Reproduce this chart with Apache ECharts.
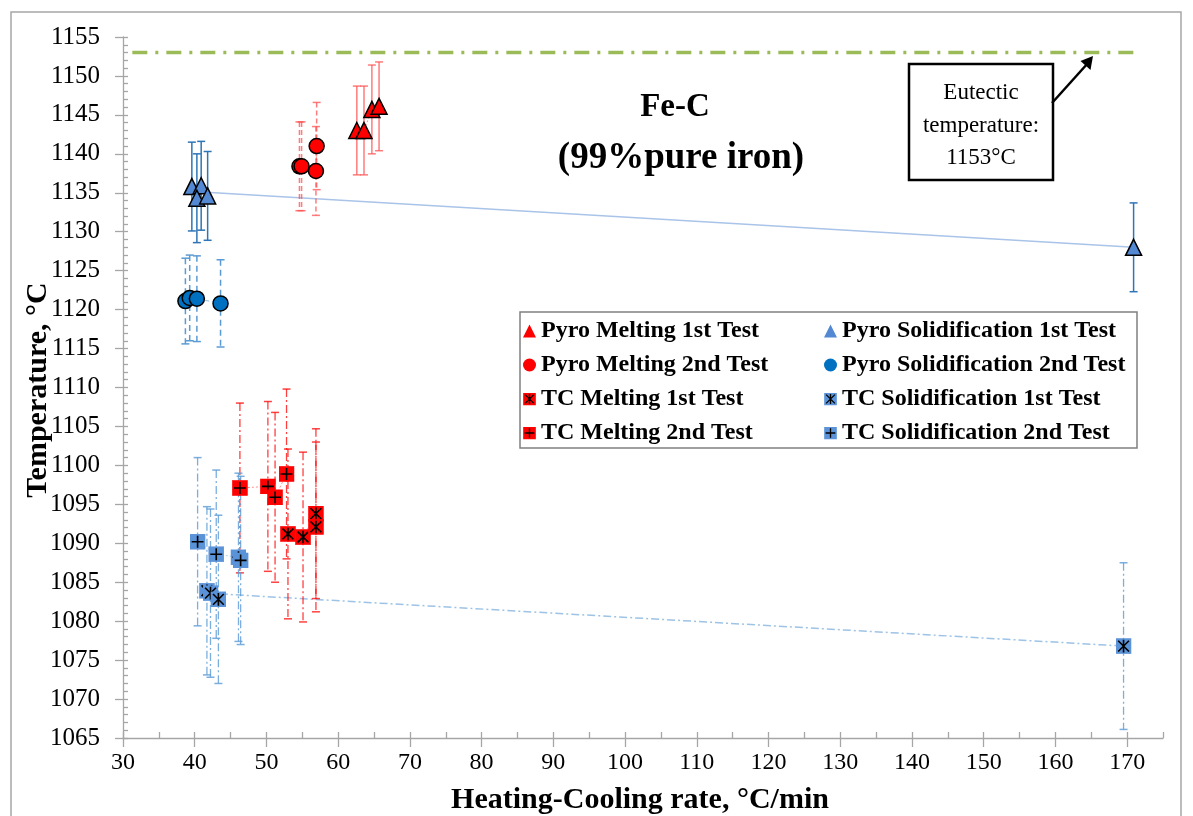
<!DOCTYPE html>
<html>
<head>
<meta charset="utf-8">
<script src="https://cdn.jsdelivr.net/npm/echarts@6/dist/echarts.min.js"></script>
<style>html,body{margin:0;padding:0;background:#fff;}#c{width:1193px;height:816px;}</style>
</head>
<body>
<div id="c"></div>
<script>
// ---------------- DATA ----------------
const pyroMelt1X = [62.6, 63.6, 64.7, 65.7];
const pyroMelt1Y = [1143.0, 1143.0, 1145.7, 1146.1];
const pyroMelt1Err = [5.7, 5.7, 5.7, 5.7];

const pyroMelt2X = [54.6, 54.9, 56.9, 57.0];
const pyroMelt2Y = [1138.4, 1138.4, 1137.8, 1141.0];
const pyroMelt2Err = [5.7, 5.7, 5.7, 5.6];

const pyroSol1X = [39.6, 40.9, 40.3, 41.8, 170.9];
const pyroSol1Y = [1135.8, 1135.9, 1134.3, 1134.6, 1128.0];
const pyroSol1Err = [5.7, 5.7, 5.7, 5.7, 5.7];

const pyroSol2X = [38.7, 39.3, 40.3, 43.6];
const pyroSol2Y = [1121.1, 1121.5, 1121.4, 1120.8];
const pyroSol2Err = [5.5, 5.5, 5.5, 5.6];

const tcMelt1X = [53.0, 55.1, 56.9, 56.9];
const tcMelt1Y = [1091.2, 1090.8, 1093.8, 1092.1];
const tcMelt1Err = [10.9, 10.9, 10.9, 10.9];

const tcMelt2X = [46.3, 50.2, 51.2, 52.8];
const tcMelt2Y = [1097.1, 1097.3, 1095.9, 1098.9];
const tcMelt2Err = [10.9, 10.9, 10.9, 10.9];

const tcSol1X = [41.7, 42.2, 43.3, 169.5];
const tcSol1Y = [1083.9, 1083.6, 1082.8, 1076.8];
const tcSol1Err = [10.8, 10.8, 10.8, 10.7];

const tcSol2X = [40.4, 43.0, 46.1, 46.4];
const tcSol2Y = [1090.2, 1088.6, 1088.2, 1087.8];
const tcSol2Err = [10.8, 10.8, 10.8, 10.8];

const ps1TrendX = [41.0, 170.9];
const ps1TrendY = [1135.1, 1128.0];
const ts1TrendX = [43.5, 169.5];
const ts1TrendY = [1083.5, 1076.8];

const eutecticX = [31.3, 171.0];
const eutecticY = [1153, 1153];

const xMajorTicks = [30, 40, 50, 60, 70, 80, 90, 100, 110, 120, 130, 140, 150, 160, 170];
const xMinorTicks = [30, 35, 40, 45, 50, 55, 60, 65, 70, 75, 80, 85, 90, 95, 100, 105, 110, 115, 120, 125, 130, 135, 140, 145, 150, 155, 160, 165, 170, 175];
const xTickLabels = [30, 40, 50, 60, 70, 80, 90, 100, 110, 120, 130, 140, 150, 160, 170];

const names = {
  pm1: 'Pyro Melting 1st Test', pm2: 'Pyro Melting 2nd Test',
  tm1: 'TC Melting 1st Test', tm2: 'TC Melting 2nd Test',
  ps1: 'Pyro Solidification 1st Test', ps2: 'Pyro Solidification 2nd Test',
  ts1: 'TC Solidification 1st Test', ts2: 'TC Solidification 2nd Test'
};

// ---------------- HELPERS ----------------
const FONT = "'Liberation Serif','Times New Roman',serif";
const pts = (xs, ys) => xs.map((x, i) => [x, ys[i]]);
const errPts = (xs, ys, es) => xs.map((x, i) => [x, ys[i], es[i]]);

function svgSymbol(fill, kind) {
  const path = kind === 'plus'
    ? "M7 1.8V12.2M1.8 7H12.2"
    : "M2.3 2.3L11.7 11.7M11.7 2.3L2.3 11.7M7 1.5V12.5";
  const svg = "<svg xmlns='http://www.w3.org/2000/svg' width='28' height='28' viewBox='0 0 14 14'>" +
    "<rect x='0.3' y='0.3' width='13.4' height='13.4' fill='" + fill + "' stroke='" + fill + "' stroke-opacity='0.6' stroke-width='0.6'/>" +
    "<path d='" + path + "' stroke='#000' stroke-width='1.4' fill='none'/></svg>";
  return 'image://data:image/svg+xml;charset=utf-8,' + encodeURIComponent(svg);
}

function errSeries(data, color, dash, width) {
  return {
    type: 'custom', silent: true, z: 2,
    data: data,
    encode: { x: 0, y: 1 },
    renderItem: function (params, api) {
      const x = api.value(0), y = api.value(1), e = api.value(2);
      const t = api.coord([x, y + e]), b = api.coord([x, y - e]);
      const cw = 4;
      return {
        type: 'group', children: [
          { type: 'line', shape: { x1: t[0], y1: t[1], x2: b[0], y2: b[1] }, style: { stroke: color, lineWidth: width, lineDash: dash } },
          { type: 'line', shape: { x1: t[0] - cw, y1: t[1], x2: t[0] + cw, y2: t[1] }, style: { stroke: color, lineWidth: 1.5 } },
          { type: 'line', shape: { x1: b[0] - cw, y1: b[1], x2: b[0] + cw, y2: b[1] }, style: { stroke: color, lineWidth: 1.5 } }
        ]
      };
    }
  };
}

function faintLine(data, color, dash) {
  return {
    type: 'line', data: data, symbol: 'none', silent: true, z: 2,
    lineStyle: { color: color, width: 1, type: dash, opacity: 0.45 }
  };
}

function scatter(name, data, symbol, color, size, border) {
  return {
    type: 'scatter', name: name, data: data, symbol: symbol, symbolSize: size, z: 5,
    itemStyle: { color: color, borderColor: border ? '#000' : color, borderWidth: border ? 1.5 : 0, opacity: 1 }
  };
}

const RED = '#ff0000';
const BLUE_TRI = '#5389d3';
const BLUE_CIR = '#0070c0';
const BLUE_SQ = '#5b93d8';

const series = [
  { type: 'line', data: pts(eutecticX, eutecticY), symbol: 'none', silent: true, z: 1,
    lineStyle: { color: '#9bbb59', width: 3.5, type: [15, 8, 3, 8] } },
  { type: 'line', data: pts(ps1TrendX, ps1TrendY), symbol: 'none', silent: true, z: 1,
    lineStyle: { color: '#a9c4e8', width: 1.5 } },
  { type: 'line', data: pts(ts1TrendX, ts1TrendY), symbol: 'none', silent: true, z: 1,
    lineStyle: { color: '#9dc3e6', width: 1.5, type: [8, 3, 2, 3] } },
  faintLine(pts(pyroMelt1X, pyroMelt1Y), RED, [2, 2]),
  faintLine(pts(pyroMelt2X, pyroMelt2Y), RED, [4, 3]),
  faintLine(pts(pyroSol2X, pyroSol2Y), BLUE_CIR, [4, 3]),
  faintLine(pts(tcMelt2X, tcMelt2Y), RED, [2, 2]),
  faintLine(pts(tcMelt1X, tcMelt1Y), RED, [2, 2]),
  faintLine(pts(tcSol2X, tcSol2Y), BLUE_SQ, [2, 2]),
  errSeries(errPts(pyroMelt1X, pyroMelt1Y, pyroMelt1Err), 'rgba(255,80,80,0.75)', null, 1.5),
  errSeries(errPts(pyroMelt2X, pyroMelt2Y, pyroMelt2Err), 'rgba(255,80,80,0.75)', [5, 3], 1.5),
  errSeries(errPts(pyroSol1X, pyroSol1Y, pyroSol1Err), '#2e75b6', null, 1.5),
  errSeries(errPts(pyroSol2X, pyroSol2Y, pyroSol2Err), '#5b9bd5', [6, 4], 1.5),
  errSeries(errPts(tcMelt1X, tcMelt1Y, tcMelt1Err), 'rgba(255,0,0,0.75)', [8, 3, 2, 3], 1.3),
  errSeries(errPts(tcMelt2X, tcMelt2Y, tcMelt2Err), 'rgba(255,0,0,0.75)', [8, 3, 2, 3], 1.3),
  errSeries(errPts(tcSol1X, tcSol1Y, tcSol1Err), 'rgba(91,155,213,0.8)', [8, 3, 2, 3], 1.3),
  errSeries(errPts(tcSol2X, tcSol2Y, tcSol2Err), 'rgba(91,155,213,0.8)', [8, 3, 2, 3], 1.3),
  scatter(names.pm1, pts(pyroMelt1X, pyroMelt1Y), 'triangle', RED, 16, true),
  scatter(names.pm2, pts(pyroMelt2X, pyroMelt2Y), 'circle', RED, 15, true),
  scatter(names.ps1, pts(pyroSol1X, pyroSol1Y), 'triangle', BLUE_TRI, 16, true),
  scatter(names.ps2, pts(pyroSol2X, pyroSol2Y), 'circle', BLUE_CIR, 15, true),
  scatter(names.tm1, pts(tcMelt1X, tcMelt1Y), svgSymbol(RED, 'star'), RED, 16, false),
  scatter(names.tm2, pts(tcMelt2X, tcMelt2Y), svgSymbol(RED, 'plus'), RED, 16, false),
  scatter(names.ts1, pts(tcSol1X, tcSol1Y), svgSymbol(BLUE_SQ, 'star'), BLUE_SQ, 16, false),
  scatter(names.ts2, pts(tcSol2X, tcSol2Y), svgSymbol(BLUE_SQ, 'plus'), BLUE_SQ, 16, false)
];

const legendBase = {
  orient: 'vertical', top: 319, itemWidth: 13, itemHeight: 13, itemGap: 10, padding: 0, z: 20,
  selectedMode: false,
  itemStyle: { borderWidth: 0 },
  textStyle: { fontFamily: FONT, fontWeight: 'bold', fontSize: 24, color: '#000', lineHeight: 24 }
};

const axisGray = '#a6a6a6';

const option = {
  animation: false,
  backgroundColor: '#fff',
  grid: { left: 123, right: 30, top: 37, bottom: 78, containLabel: false },
  xAxis: [
    { type: 'value', min: 30, max: 175, interval: 10, position: 'bottom',
      axisLine: { show: true, onZero: false, lineStyle: { color: axisGray, width: 1.3 } },
      axisTick: { show: true, inside: false, length: 9, customValues: xMajorTicks, lineStyle: { color: axisGray, width: 1.3 } },
      axisLabel: { customValues: xTickLabels, fontSize: 24, fontFamily: FONT, color: '#000', margin: 13,
        formatter: v => (v > 170 ? '' : String(v)) },
      splitLine: { show: false } },
    { type: 'value', min: 30, max: 175, interval: 5, position: 'bottom',
      axisLine: { show: false, onZero: false },
      axisTick: { show: true, inside: true, length: 6, customValues: xMinorTicks, lineStyle: { color: axisGray, width: 1.3 } },
      axisLabel: { show: false }, splitLine: { show: false } }
  ],
  yAxis: [
    { type: 'value', min: 1065, max: 1155, interval: 5, position: 'left',
      axisLine: { show: true, onZero: false, lineStyle: { color: axisGray, width: 1.3 } },
      axisTick: { show: true, inside: false, length: 8, lineStyle: { color: axisGray, width: 1.3 } },
      axisLabel: { fontSize: 25, fontFamily: FONT, color: '#000', margin: 23, formatter: v => String(v) },
      splitLine: { show: false } },
    { type: 'value', min: 1065, max: 1155, interval: 5, position: 'left',
      axisLine: { show: false, onZero: false },
      axisTick: { show: true, inside: true, length: 5, lineStyle: { color: axisGray, width: 1.3 } },
      minorTick: { show: true, splitNumber: 5, length: 5, lineStyle: { color: axisGray, width: 1.3 } },
      axisLabel: { show: false }, splitLine: { show: false }, minorSplitLine: { show: false } }
  ],
  legend: [
    Object.assign({}, legendBase, { left: 523, data: [names.pm1, names.pm2, names.tm1, names.tm2] }),
    Object.assign({}, legendBase, { left: 824, data: [names.ps1, names.ps2, names.ts1, names.ts2] })
  ],
  graphic: [
    { type: 'rect', silent: true, z: 0, shape: { x: 11, y: 12, width: 1170, height: 830 },
      style: { fill: 'transparent', stroke: '#a6a6a6', lineWidth: 1.5 } },
    { type: 'rect', silent: true, z: 8, shape: { x: 520, y: 312, width: 617, height: 136 },
      style: { fill: '#fff', stroke: '#808080', lineWidth: 1.5 } },
    { type: 'rect', silent: true, z: 8, shape: { x: 909, y: 64, width: 144, height: 116 },
      style: { fill: '#fff', stroke: '#000', lineWidth: 2.5 } },
    { type: 'text', silent: true, z: 9, x: 981, y: 93,
      style: { text: 'Eutectic', font: '23px ' + FONT, fill: '#000', align: 'center', verticalAlign: 'middle' } },
    { type: 'text', silent: true, z: 9, x: 981, y: 126,
      style: { text: 'temperature:', font: '23px ' + FONT, fill: '#000', align: 'center', verticalAlign: 'middle' } },
    { type: 'text', silent: true, z: 9, x: 981, y: 158,
      style: { text: '1153°C', font: '23px ' + FONT, fill: '#000', align: 'center', verticalAlign: 'middle' } },
    { type: 'line', silent: true, z: 9, shape: { x1: 1052, y1: 103, x2: 1088, y2: 63 },
      style: { stroke: '#000', lineWidth: 2.5 } },
    { type: 'polygon', silent: true, z: 9, shape: { points: [[1093, 56], [1090.5, 70], [1080.5, 61]] },
      style: { fill: '#000' } },
    { type: 'text', silent: true, z: 9, x: 675, y: 107,
      style: { text: 'Fe-C', font: 'bold 33px ' + FONT, fill: '#000', align: 'center', verticalAlign: 'middle' } },
    { type: 'text', silent: true, z: 9, x: 681, y: 158,
      style: { text: '(99%pure iron)', font: 'bold 37px ' + FONT, fill: '#000', align: 'center', verticalAlign: 'middle' } },
    { type: 'text', silent: true, z: 9, x: 38, y: 390, rotation: Math.PI / 2,
      style: { text: 'Temperature, °C', font: 'bold 30px ' + FONT, fill: '#000', align: 'center', verticalAlign: 'middle' } },
    { type: 'text', silent: true, z: 9, x: 640, y: 800,
      style: { text: 'Heating-Cooling rate, °C/min', font: 'bold 30px ' + FONT, fill: '#000', align: 'center', verticalAlign: 'middle' } }
  ],
  series: series
};

const chart = echarts.init(document.getElementById('c'), null, { renderer: 'canvas' });
chart.setOption(option);
</script>
</body>
</html>
